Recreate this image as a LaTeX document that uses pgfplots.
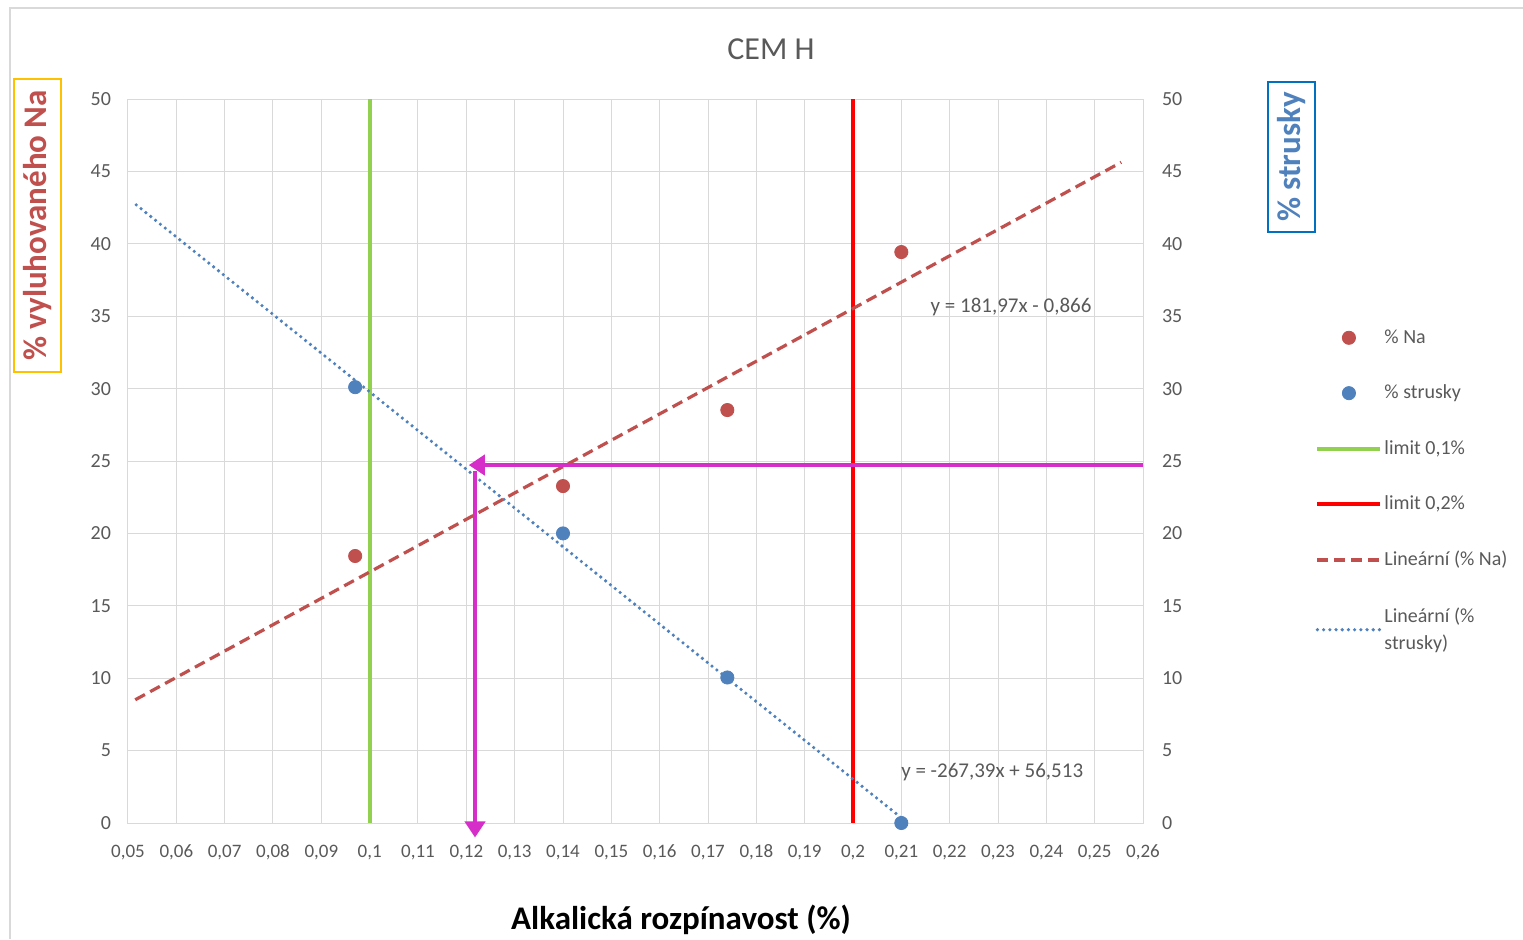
\documentclass[border=0pt]{standalone}
\usepackage{pgfplots}
\pgfplotsset{compat=1.18}
\usepackage{fontspec}
\setmainfont{Carlito}
\usetikzlibrary{arrows.meta}
\definecolor{tickgray}{HTML}{595959}
\definecolor{gridgray}{HTML}{D9D9D9}
\definecolor{nared}{HTML}{C0504D}
\definecolor{strblue}{HTML}{4F81BD}
\definecolor{limgreen}{HTML}{92D050}
\definecolor{limred}{HTML}{FF0000}
\definecolor{arrmag}{RGB}{214,46,200}
\definecolor{boxyellow}{HTML}{FFC000}
\definecolor{boxblue}{HTML}{0070C0}
\begin{document}
\begin{tikzpicture}
\useasboundingbox (0,0) rectangle (761.5pt,-469.5pt);
\draw[color=gridgray, line width=0.8pt] (5pt,-469.5pt) -- (5pt,-4pt) -- (761.5pt,-4pt);
\begin{axis}[
  at={(64pt,-411.5pt)}, anchor=south west,
  scale only axis, width=507.5pt, height=362pt,
  xmin=0.05, xmax=0.26, ymin=0, ymax=50,
  xtick={0.05,0.06,0.07,0.08,0.09,0.1,0.11,0.12,0.13,0.14,0.15,0.16,0.17,0.18,0.19,0.2,0.21,0.22,0.23,0.24,0.25,0.26},
  ytick={0,5,10,15,20,25,30,35,40,45,50},
  /pgf/number format/.cd, use comma, fixed, precision=2, assume math mode=true, /pgfplots/.cd,
  grid=major, grid style={color=gridgray, line width=0.5pt},
  axis line style={color=gridgray, line width=0.5pt},
  tick style={draw=none},
  xticklabel style={font=\fontsize{9.5}{11}\selectfont, text=tickgray, yshift=-7pt, text height=6.5pt, text depth=1.5pt},
  yticklabel style={font=\fontsize{10}{12}\selectfont, text=tickgray, xshift=-5pt},
  clip=false,
  legend cell align=left,
  legend image code/.code={\draw[mark repeat=2,mark phase=2,#1] plot coordinates {(0pt,0pt) (15.75pt,0pt) (31.5pt,0pt)};},
  legend style={at={(1.1695,0.685)}, anchor=north west, draw=none, fill=none,
    font=\fontsize{10}{13.5}\selectfont, text=tickgray, row sep=17.3pt, inner sep=0pt,
    cells={align=left}, nodes={inner sep=1pt}},
]
\addplot[only marks, mark=*, mark size=3.3pt, color=nared] coordinates {
  (0.097,18.44) (0.14,23.27) (0.174,28.52) (0.21,39.43)};
\addlegendentry{\% Na}
\addplot[only marks, mark=*, mark size=3.3pt, color=strblue] coordinates {
  (0.097,30.1) (0.14,20.0) (0.174,10.05) (0.21,0)};
\addlegendentry{\% strusky}
\addplot[color=limgreen, line width=2pt] coordinates {(0.1,0) (0.1,50)};
\addlegendentry{limit 0,1\%}
\addplot[color=limred, line width=2pt] coordinates {(0.2,0) (0.2,50)};
\addlegendentry{limit 0,2\%}
\addplot[color=nared, line width=1.6pt, dash pattern=on 5.5pt off 3pt] coordinates {(0.0515,8.51) (0.2555,45.63)};
\addlegendentry{Lineární (\% Na)}
\addplot[color=strblue, line width=1.8pt, dash pattern=on 0pt off 3.1pt, line cap=round] coordinates {(0.0517,42.69) (0.21,0.36)};
\addlegendentry{Lineární (\%\\strusky)}
\addplot[forget plot, color=arrmag, line width=2.2pt, -{Triangle[length=8pt,width=10pt]}] coordinates {(0.26,24.72) (0.1205,24.72)};
\addplot[forget plot, color=arrmag, line width=2.2pt, -{Triangle[length=8pt,width=10pt]}] coordinates {(0.1218,24.3) (0.1218,-1.0)};
\node[text=tickgray, font=\fontsize{10.5}{12}\selectfont] at (axis cs:0.2327,35.64) {y = 181,97x - 0,866};
\node[text=tickgray, font=\fontsize{10.5}{12}\selectfont] at (axis cs:0.2288,3.52) {y = -267,39x + 56,513};
\end{axis}
\begin{axis}[
  at={(64pt,-411.5pt)}, anchor=south west,
  scale only axis, width=507.5pt, height=362pt,
  xmin=0.05, xmax=0.26, ymin=0, ymax=50,
  axis x line=none, axis y line*=right,
  axis line style={draw=none},
  ytick={0,5,10,15,20,25,30,35,40,45,50},
  tick style={draw=none},
  /pgf/number format/assume math mode=true,
  yticklabel style={font=\fontsize{10}{12}\selectfont, text=tickgray, xshift=6pt},
]
\addplot[draw=none, forget plot] coordinates {(0.05,0) (0.26,50)};
\end{axis}
\node[text=tickgray, font=\fontsize{16}{19}\selectfont] at (385.5pt,-24.5pt) {CEM H};
\node[font=\fontsize{16.5}{19}\selectfont\bfseries, text=black] at (340.5pt,-460pt) {Alkalická rozpínavost (\%)};
\node[draw=boxyellow, line width=1pt, rotate=90, minimum width=146.5pt, minimum height=23.5pt, inner sep=0pt,
  text=nared, font=\fontsize{16.5}{19}\selectfont\bfseries] at (18.75pt,-112.75pt) {\% vyluhovaného Na};
\node[draw=boxblue, line width=1pt, rotate=90, minimum width=75pt, minimum height=23.5pt, inner sep=0pt,
  text=strblue, font=\fontsize{16.5}{19}\selectfont\bfseries] at (645.75pt,-78.5pt) {\% strusky};
\end{tikzpicture}
\end{document}
